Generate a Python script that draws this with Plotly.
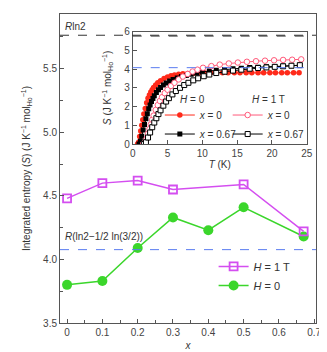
import plotly.graph_objects as go

# main panel: integrated entropy vs x
x_doping = [0, 0.1, 0.2, 0.3, 0.4, 0.5, 0.67]
S_H0 = [3.80, 3.83, 4.09, 4.33, 4.23, 4.41, 4.18]
x_doping_1T = [0, 0.1, 0.2, 0.3, 0.5, 0.67]
S_H1T = [4.48, 4.60, 4.62, 4.55, 4.59, 4.22]

R_LN2 = 5.763
R_PAULING = 4.077

# inset: S(T)
T_x0_H0 = [0.7, 0.85, 1.0, 1.15, 1.3, 1.45, 1.6, 1.8, 2.0, 2.2, 2.4, 2.6, 2.8, 3.0, 3.3, 3.6, 4.0,
           4.5, 5.0, 5.5, 6.0, 6.6, 7.2, 7.9, 8.7, 9.5, 10.3, 11.2, 12.0, 12.9, 13.7, 14.6, 15.4,
           16.3, 17.1, 18.0, 18.8, 19.7, 20.5, 21.4, 22.2, 23.1, 23.9]
S_x0_H0 = [0.0, 0.1, 0.4, 0.7, 1.0, 1.3, 1.6, 1.9, 2.2, 2.45, 2.62, 2.78, 2.9, 3.02, 3.15, 3.27, 3.38,
           3.5, 3.58, 3.64, 3.68, 3.72, 3.75, 3.77, 3.78, 3.79, 3.8, 3.8, 3.8, 3.8, 3.8, 3.8, 3.8,
           3.8, 3.8, 3.8, 3.8, 3.8, 3.8, 3.8, 3.8, 3.8, 3.8]

T_x067_H0 = [0.9, 1.1, 1.3, 1.5, 1.7, 1.9, 2.1, 2.3, 2.5, 2.7, 2.9, 3.1, 3.4, 3.7, 4.0, 4.4, 4.8,
             5.3, 5.8, 6.4, 7.0, 7.7, 8.4, 9.2, 10.0, 11.0, 12.0, 13.2, 14.4, 15.6, 16.8, 18.0,
             19.2, 20.4, 21.6, 22.8, 24.0]
S_x067_H0 = [0.0, 0.15, 0.42, 0.75, 1.05, 1.35, 1.62, 1.88, 2.08, 2.27, 2.43, 2.58, 2.75, 2.9, 3.02, 3.15, 3.26,
             3.37, 3.45, 3.53, 3.6, 3.66, 3.72, 3.78, 3.84, 3.9, 3.94, 3.98, 4.02, 4.05, 4.08, 4.1,
             4.12, 4.14, 4.16, 4.18, 4.2]

T_x0_H1T = [1.5, 1.8, 2.0, 2.2, 2.4, 2.6, 2.8, 3.0, 3.3, 3.6, 3.9, 4.2, 4.6, 5.0, 5.5, 6.0, 6.6,
            7.2, 7.9, 8.6, 9.3, 10.1, 11.3, 12.5, 13.8, 15.1, 16.4, 17.7, 19.0, 20.3, 21.6, 22.9, 24.2]
S_x0_H1T = [0.0, 0.1, 0.3, 0.55, 0.8, 1.05, 1.3, 1.52, 1.82, 2.08, 2.3, 2.5, 2.72, 2.9, 3.1, 3.27, 3.45,
            3.6, 3.74, 3.87, 3.97, 4.07, 4.16, 4.24, 4.3, 4.35, 4.39, 4.42, 4.45, 4.47, 4.49, 4.5, 4.52]

T_x067_H1T = [1.6, 1.9, 2.2, 2.5, 2.8, 3.1, 3.4, 3.7, 4.0, 4.4, 4.8, 5.2, 5.7, 6.2, 6.8, 7.4, 8.0,
              8.7, 9.4, 10.2, 11.0, 12.0, 13.2, 14.4, 15.6, 16.8, 18.0, 19.2, 20.4, 21.6, 22.8, 24.0]
S_x067_H1T = [0.0, 0.1, 0.35, 0.62, 0.9, 1.15, 1.38, 1.6, 1.8, 2.05, 2.27, 2.45, 2.65, 2.83, 3.0, 3.15, 3.27,
              3.4, 3.51, 3.62, 3.71, 3.79, 3.86, 3.92, 3.97, 4.02, 4.06, 4.09, 4.12, 4.15, 4.18, 4.21]

FONT = 'Liberation Sans'
AX = '#555555'
GREEN = '#3bd62b'
MAGENTA = '#d44ef0'
RED = '#ff2a1a'
PINK = '#ff5a7a'
BLUE = '#5a7cf0'

fig = go.Figure()

# main panel
fig.add_trace(go.Scatter(x=x_doping, y=S_H0, mode='lines+markers', name='<i>H</i> = 0',
                         line=dict(color=GREEN, width=1.5),
                         marker=dict(symbol='circle', size=10, color=GREEN), legend='legend'))
fig.add_trace(go.Scatter(x=x_doping_1T, y=S_H1T, mode='lines+markers', name='<i>H</i> = 1 T',
                         line=dict(color=MAGENTA, width=1.5),
                         marker=dict(symbol='square-open', size=8, color=MAGENTA, line=dict(width=1.8)),
                         legend='legend'))

# inset
fig.add_trace(go.Scatter(x=T_x0_H0, y=S_x0_H0, mode='lines+markers', name='<i>x</i> = 0',
                         line=dict(color=RED, width=1),
                         marker=dict(symbol='circle', size=5.5, color=RED),
                         xaxis='x2', yaxis='y2', legend='legend2'))
fig.add_trace(go.Scatter(x=T_x067_H0, y=S_x067_H0, mode='lines+markers', name='<i>x</i> = 0.67',
                         line=dict(color='black', width=1),
                         marker=dict(symbol='square', size=5, color='black'),
                         xaxis='x2', yaxis='y2', legend='legend2'))
fig.add_trace(go.Scatter(x=T_x0_H1T, y=S_x0_H1T, mode='lines+markers', name='<i>x</i> = 0',
                         line=dict(color=PINK, width=1),
                         marker=dict(symbol='circle', size=5.5, color='white', line=dict(color=PINK, width=1)),
                         xaxis='x2', yaxis='y2', legend='legend3'))
fig.add_trace(go.Scatter(x=T_x067_H1T, y=S_x067_H1T, mode='lines+markers', name='<i>x</i> = 0.67',
                         line=dict(color='black', width=1),
                         marker=dict(symbol='square', size=5, color='white', line=dict(color='black', width=1)),
                         xaxis='x2', yaxis='y2', legend='legend3'))

# reference lines
for yref, xref in [('y', 'x domain'), ('y2', 'x2 domain')]:
    fig.add_shape(type='line', xref=xref, yref=yref, x0=0, x1=1, y0=R_LN2, y1=R_LN2,
                  line=dict(color='#333333', width=1, dash='dash'))
    fig.add_shape(type='line', xref=xref, yref=yref, x0=0, x1=1, y0=R_PAULING, y1=R_PAULING,
                  line=dict(color=BLUE, width=1, dash='dash'))

txt_font = dict(family=FONT, size=10, color='#333333')
fig.add_annotation(text='<i>R</i>ln2', xref='paper', yref='paper', x=0.01, y=0.959,
                   xanchor='left', yanchor='middle', showarrow=False, font=txt_font)
fig.add_annotation(text='<i>R</i>(ln2\u22121/2 ln(3/2))', xref='paper', yref='paper', x=0.01, y=0.279,
                   xanchor='left', yanchor='middle', showarrow=False, font=txt_font)
# inset legend headers
fig.add_annotation(text='<i>H</i> = 0', xref='paper', yref='paper', x=0.46, y=0.724,
                   xanchor='left', yanchor='middle', showarrow=False, font=txt_font)
fig.add_annotation(text='<i>H</i> = 1 T', xref='paper', yref='paper', x=0.742, y=0.724,
                   xanchor='left', yanchor='middle', showarrow=False, font=txt_font)

axis_common = dict(showline=True, linecolor=AX, linewidth=1, mirror=True, ticks='inside',
                   tickcolor=AX, ticklen=4, showgrid=False, zeroline=False, automargin=False,
                   tickfont=dict(family=FONT, size=10, color='#444444'))

# page body adds an 8px offset, so the figure is 8px smaller on the left/top
fig.update_layout(
    width=319, height=344,
    margin=dict(l=52, r=11, t=6, b=29),
    plot_bgcolor='white', paper_bgcolor='white',
    font=dict(family=FONT, size=10, color='#333333'),
    xaxis=dict(range=[-0.02, 0.705], dtick=0.1, tick0=0,
               minor=dict(ticks='inside', dtick=0.05, tick0=0, ticklen=3, tickcolor=AX),
               title=dict(text='<i>x</i>', standoff=4, font=dict(family=FONT, size=10)),
               **axis_common),
    yaxis=dict(range=[3.5, 5.93], dtick=0.5, tick0=3.5, tickformat='.1f',
               minor=dict(ticks='inside', dtick=0.25, tick0=3.5, ticklen=3, tickcolor=AX),
               title=dict(text='Integrated entropy (<i>S</i>) (J K<sup>\u22121</sup> mol<sub>Ho</sub><sup>\u22121</sup>)',
                          standoff=10, font=dict(family=FONT, size=10)),
               **axis_common),
    xaxis2=dict(domain=[0.284, 0.964], anchor='y2', range=[0, 25], dtick=5,
                title=dict(text='<i>T</i> (K)', standoff=2, font=dict(family=FONT, size=10)),
                **axis_common),
    yaxis2=dict(domain=[0.579, 0.943], anchor='x2', range=[0, 6], dtick=1,
                title=dict(text='<i>S</i> (J K<sup>\u22121</sup> mol<sub>Ho</sub><sup>\u22121</sup>)',
                           standoff=10, font=dict(family=FONT, size=10)),
                **axis_common),
    legend=dict(x=0.60, y=0.23, xanchor='left', yanchor='top', traceorder='reversed',
                bgcolor='rgba(0,0,0,0)', font=dict(family=FONT, size=11)),
    legend2=dict(x=0.39, y=0.72, xanchor='left', yanchor='top', bgcolor='rgba(0,0,0,0)',
                 font=dict(family=FONT, size=10)),
    legend3=dict(x=0.655, y=0.72, xanchor='left', yanchor='top', bgcolor='rgba(0,0,0,0)',
                 font=dict(family=FONT, size=10)),
)

fig.write_html("out.html")
